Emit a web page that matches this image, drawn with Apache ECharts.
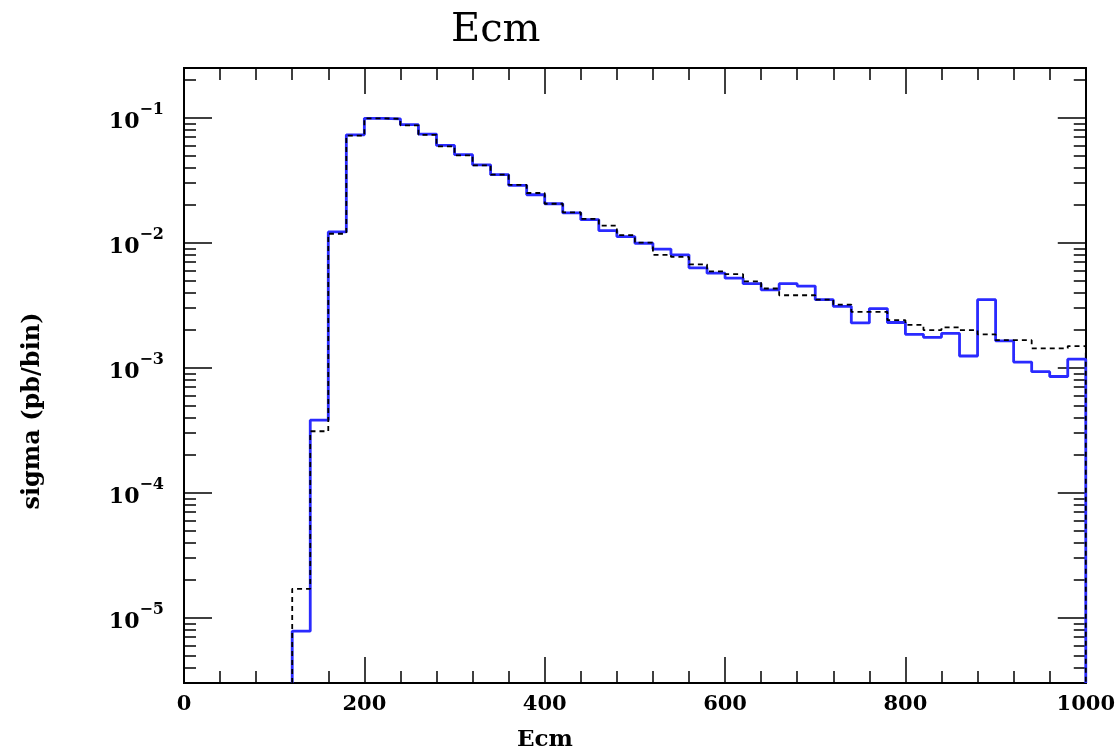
<!DOCTYPE html>
<html><head><meta charset="utf-8">
<script src="https://cdn.jsdelivr.net/npm/echarts@6/dist/echarts.min.js"></script>
<style>html,body{margin:0;padding:0;background:#fff}#c{width:1118px;height:753px}</style>
</head><body><div id="c"></div>
<script>
// ---- data ----
const binLow = [120,140,160,180,200,220,240,260,280,300,
                320,340,360,380,400,420,440,460,480,500,
                520,540,560,580,600,620,640,660,680,700,
                720,740,760,780,800,820,840,860,880,900,
                920,940,960,980];
const binWidth = 20;
const blueVals = [7.8e-6,3.8e-4,1.22e-2,7.3e-2,0.099,0.098,0.088,0.074,0.060,0.0506,
                  0.042,0.035,0.0288,0.0242,0.0205,0.0173,0.0153,0.0125,0.0112,0.0099,
                  0.0089,0.0080,0.0063,0.0057,0.0052,0.0047,0.0042,0.0047,0.0045,0.0035,
                  0.0031,0.00228,0.00297,0.0023,0.00185,0.00175,0.00188,0.00124,0.0035,0.00164,
                  0.00111,0.00093,0.00085,0.00117];
const dashVals = [1.7e-5,3.1e-4,1.18e-2,7.2e-2,0.099,0.098,0.087,0.073,0.059,0.050,
                  0.0415,0.035,0.029,0.025,0.0205,0.0175,0.0155,0.0137,0.0115,0.0100,
                  0.0080,0.0077,0.0067,0.0059,0.0056,0.0049,0.0043,0.0038,0.0038,0.0035,
                  0.0032,0.0028,0.0028,0.0024,0.0022,0.0020,0.0021,0.0020,0.00185,0.00166,
                  0.00166,0.00143,0.00143,0.00149];
const xTickValues = [0,200,400,600,800,1000];
const yTickExponents = [-5,-4,-3,-2,-1];
const yMin = 3e-6, yMax = 0.25;
const title = 'Ecm', xName = 'Ecm', yName = 'sigma (pb/bin)';

// ---- build ----
function stepData(vals){
  const d = [[binLow[0], yMin]];
  vals.forEach((v,i)=>d.push([binLow[i], v]));
  const lastX = binLow[binLow.length-1] + binWidth;
  d.push([lastX, vals[vals.length-1]]);
  d.push([lastX, yMin]);
  return d;
}
const yMajor = yTickExponents.map(e=>Math.pow(10,e));
const yMinor = [];
for (let e=-6; e<=-1; e++) for (let k=2; k<=9; k++){
  const v = k*Math.pow(10,e);
  if (v>yMin && v<yMax) yMinor.push(v);
}
const FONT = 'DejaVu Serif';
const lineBlack = {color:'#000', width:2};
const tickStyle = {color:'#000', width:1.5};

function xAx(pos, labels){
  return {type:'value', position:pos, min:0, max:1000, interval:200,
    axisLine:{show:true, onZero:false, lineStyle:lineBlack},
    axisTick:{show:true, inside:true, length:26, lineStyle:tickStyle},
    minorTick:{show:true, splitNumber:5, length:12, lineStyle:tickStyle},
    splitLine:{show:false}, minorSplitLine:{show:false},
    axisLabel:{show:labels, color:'#000', fontFamily:FONT, fontSize:21, fontWeight:'bold', margin:11,
      customValues: xTickValues, formatter:(v)=>String(v)}};
}
function yAx(pos, major, labels){
  return {type:'log', logBase:10, position:pos, min:yMin, max:yMax,
    axisLine:{show:true, onZero:false, lineStyle:lineBlack},
    axisTick:{show:true, inside:true, length: major?28:12, lineStyle:tickStyle,
      customValues: major?yMajor:yMinor},
    splitLine:{show:false},
    axisLabel:{show:labels, customValues:yMajor, margin:20,
      formatter:(v)=>'{b|10}{e|−'+Math.round(-Math.log10(v))+'}',
      rich:{b:{fontFamily:FONT, fontSize:22, fontWeight:'bold', color:'#000', verticalAlign:'bottom', lineHeight:32},
            e:{fontFamily:FONT, fontSize:16, fontWeight:'bold', color:'#000', verticalAlign:'top', lineHeight:32}}}};
}

const chart = echarts.init(document.getElementById('c'), null, {renderer:'canvas'});
chart.setOption({
  animation:false,
  backgroundColor:'#fff',
  title:{text:title, left:446, top:6,
    textStyle:{fontFamily:FONT, fontSize:40, fontWeight:'normal', color:'#000'}},
  grid:{left:184, right:32, top:68, bottom:70, containLabel:false},
  xAxis:[xAx('bottom', true), xAx('top', false)],
  yAxis:[yAx('left', true, true), yAx('left', false, false), yAx('right', true, false), yAx('right', false, false)],
  graphic:[
    {type:'text', x:33, y:411, rotation:Math.PI/2,
      style:{text:yName, fontFamily:FONT, fontSize:24, fontWeight:'bold', fill:'#000', align:'center', verticalAlign:'middle'}},
    {type:'text', x:545, y:740,
      style:{text:xName, fontFamily:FONT, fontSize:23, fontWeight:'bold', fill:'#000', align:'center', verticalAlign:'middle'}}
  ],
  series:[
    {type:'line', name:'blue', data:stepData(blueVals), step:'end', symbol:'none', xAxisIndex:0, yAxisIndex:0,
      lineStyle:{color:'#2a2aff', width:2.8}, z:3},
    {type:'line', name:'dashed', data:stepData(dashVals), step:'end', symbol:'none', xAxisIndex:0, yAxisIndex:0,
      lineStyle:{color:'#000', width:1.8, type:[5,4]}, z:4}
  ]
});
</script></body></html>
